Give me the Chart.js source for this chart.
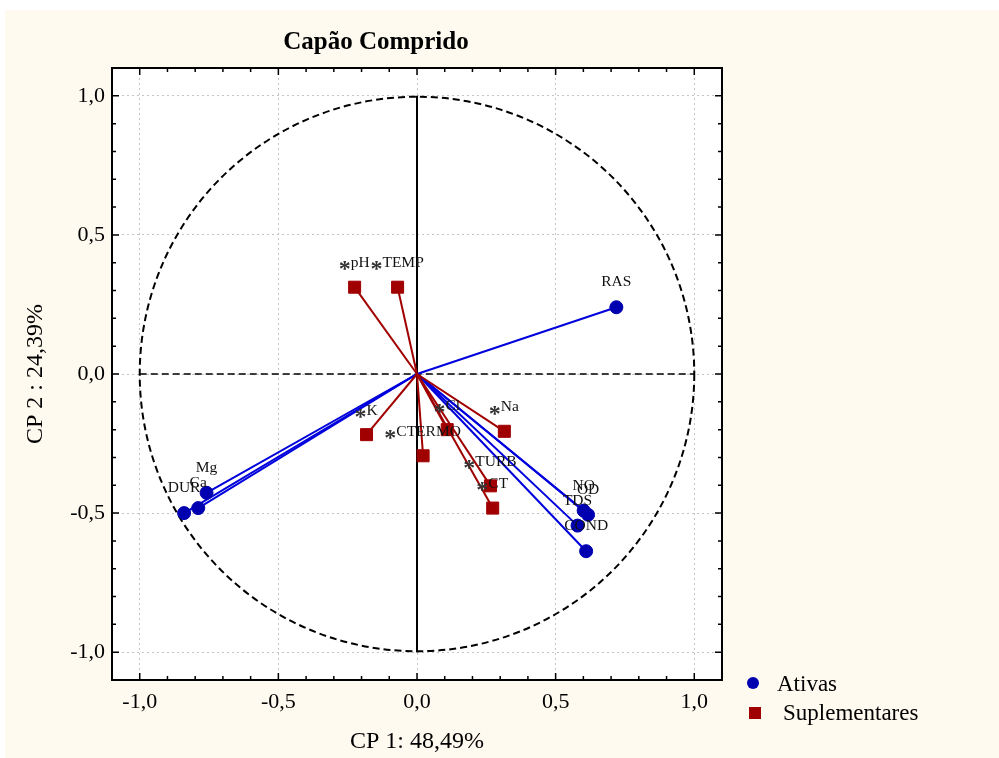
<!DOCTYPE html>
<html>
<head>
<meta charset="utf-8">
<script src="https://cdn.jsdelivr.net/npm/chart.js@4.4.1/dist/chart.umd.min.js"></script>
<style>
  html, body { margin: 0; padding: 0; background: #fff; }
  #wrap { width: 999px; height: 758px; }
</style>
</head>
<body>
<div id="wrap"><canvas id="pca" width="999" height="758"></canvas></div>
<script>
// loadings (CP1, CP2)
const ativasNames = ['RAS', 'Mg', 'Ca', 'DUR', 'NO', 'OD', 'TDS', 'COND'];
const ativasX = [0.719, -0.759, -0.789, -0.840, 0.601, 0.617, 0.579, 0.610];
const ativasY = [0.240, -0.427, -0.482, -0.500, -0.491, -0.506, -0.545, -0.637];

const supNames = ['pH', 'TEMP', 'K', 'Cl', 'CTERMO', 'Na', 'TURB', 'CT'];
const supX = [-0.225, -0.070, -0.182, 0.109, 0.022, 0.315, 0.265, 0.273];
const supY = [0.312, 0.312, -0.218, -0.200, -0.294, -0.206, -0.402, -0.482];

const axisTicks = [-1, -0.5, 0, 0.5, 1];
const axisMin = -1.1, axisMax = 1.1;

const titleText = 'Capão Comprido';
const xTitle = 'CP 1: 48,49%';
const yTitle = 'CP 2 : 24,39%';
const legendLabels = ['Ativas', 'Suplementares'];

const SERIF = '"Liberation Serif", "Times New Roman", serif';
const BLUE_PT = '#0000B0', BLUE_LN = '#0000DC', RED = '#A00000';
const CREAM = '#FFFAF0';

function fmt(v){ return v.toFixed(1).replace('.', ','); }

// vectors from the origin, one small line dataset each
const vecSets = [];
ativasX.forEach((x, i) => vecSets.push({
  type: 'line', data: [{x: 0, y: 0}, {x: x, y: ativasY[i]}],
  borderColor: BLUE_LN, borderWidth: 2, pointRadius: 0, order: 3, fill: false
}));
supX.forEach((x, i) => vecSets.push({
  type: 'line', data: [{x: 0, y: 0}, {x: x, y: supY[i]}],
  borderColor: RED, borderWidth: 2, pointRadius: 0, order: 2, fill: false
}));

const ptAtivas = {
  label: legendLabels[0], data: ativasX.map((x, i) => ({x: x, y: ativasY[i]})),
  pointStyle: 'circle', pointRadius: 6.5, backgroundColor: BLUE_PT, borderColor: BLUE_PT, order: 1
};
const ptSup = {
  label: legendLabels[1], data: supX.map((x, i) => ({x: x, y: supY[i]})),
  pointStyle: 'rect', pointRadius: 8.5, backgroundColor: RED, borderColor: RED, order: 0
};

// background panel, chart area white
const bgPlugin = {
  id: 'bg',
  beforeDraw(chart){
    const {ctx, chartArea: a} = chart;
    ctx.save();
    ctx.fillStyle = '#fff'; ctx.fillRect(0, 0, chart.width, chart.height);
    ctx.fillStyle = CREAM; ctx.fillRect(5, 10, chart.width - 5, chart.height - 10);
    ctx.fillStyle = '#fff'; ctx.fillRect(a.left, a.top, a.width, a.height);
    ctx.restore();
  }
};

// unit circle and the two axes through the origin
const circlePlugin = {
  id: 'circle',
  beforeDatasetsDraw(chart){
    const {ctx, scales: {x, y}} = chart;
    const cx = x.getPixelForValue(0), cy = y.getPixelForValue(0);
    const r = x.getPixelForValue(1) - cx;
    ctx.save();
    ctx.strokeStyle = '#000';
    ctx.lineWidth = 2; ctx.setLineDash([7, 4]);
    ctx.beginPath(); ctx.arc(cx, cy, r, 0, Math.PI * 2); ctx.stroke();
    ctx.lineWidth = 1.5;
    ctx.beginPath(); ctx.moveTo(x.getPixelForValue(-1), cy); ctx.lineTo(x.getPixelForValue(1), cy); ctx.stroke();
    ctx.setLineDash([]); ctx.lineWidth = 2;
    ctx.beginPath(); ctx.moveTo(cx, y.getPixelForValue(1)); ctx.lineTo(cx, y.getPixelForValue(-1)); ctx.stroke();
    ctx.restore();
  }
};

// variable names above each point
const labelPlugin = {
  id: 'ptLabels',
  afterDatasetsDraw(chart){
    const {ctx, scales: {x, y}} = chart;
    ctx.save();
    ctx.textBaseline = 'middle';
    ctx.font = '15.5px ' + SERIF;
    ctx.fillStyle = '#111';
    ctx.textAlign = 'center';
    ativasNames.forEach((n, i) => {
      ctx.fillText(n, x.getPixelForValue(ativasX[i]), y.getPixelForValue(ativasY[i]) - 25);
    });
    supNames.forEach((n, i) => {
      const px = x.getPixelForValue(supX[i]), py = y.getPixelForValue(supY[i]) - 24;
      ctx.font = '15.5px ' + SERIF;
      const w = ctx.measureText(n).width;
      const aw = 11;
      const left = px - (w + aw) / 2;
      ctx.textAlign = 'left';
      ctx.fillStyle = '#111';
      ctx.fillText(n, left + aw, py);
      ctx.fillStyle = '#333';
      ctx.font = 'bold 24px ' + SERIF;
      ctx.fillText('*', left - 1, py + 7);
    });
    ctx.restore();
  }
};

// frame with inward ticks, title, legend
const framePlugin = {
  id: 'frame',
  afterDraw(chart){
    const {ctx, chartArea: a, scales: {x, y}} = chart;
    ctx.save();
    ctx.strokeStyle = '#000';
    ctx.lineWidth = 2;
    ctx.strokeRect(a.left, a.top, a.width, a.height);
    ctx.lineWidth = 1.5;
    for (let i = -11; i <= 11; i++) {
      const v = i / 10, len = (i % 5 === 0) ? 7 : 4;
      const px = x.getPixelForValue(v), py = y.getPixelForValue(v);
      ctx.beginPath();
      ctx.moveTo(px, a.bottom); ctx.lineTo(px, a.bottom - len);
      ctx.moveTo(px, a.top); ctx.lineTo(px, a.top + len);
      ctx.moveTo(a.left, py); ctx.lineTo(a.left + len, py);
      ctx.moveTo(a.right, py); ctx.lineTo(a.right - len, py);
      ctx.stroke();
    }

    ctx.fillStyle = '#000';
    ctx.textBaseline = 'middle';
    ctx.textAlign = 'center';
    ctx.font = 'bold 25px ' + SERIF;
    ctx.fillText(titleText, 376, 43);

    // legend
    ctx.fillStyle = BLUE_PT;
    ctx.beginPath(); ctx.arc(753, 683, 6, 0, Math.PI * 2); ctx.fill();
    ctx.fillStyle = RED;
    ctx.fillRect(749, 707, 12, 12);
    ctx.fillStyle = '#000';
    ctx.textAlign = 'left';
    ctx.font = '23px ' + SERIF;
    ctx.fillText(legendLabels[0], 777, 685);
    ctx.fillText(legendLabels[1], 783, 714);
    ctx.restore();
  }
};

const scaleCommon = {
  type: 'linear', min: axisMin, max: axisMax,
  afterBuildTicks(s){ s.ticks = axisTicks.map(v => ({value: v})); },
  grid: { color: '#C4C4C4', lineWidth: 1, drawTicks: false },
  border: { display: false, dash: [2, 3] }
};

new Chart(document.getElementById('pca'), {
  type: 'scatter',
  data: { datasets: [...vecSets, ptAtivas, ptSup] },
  options: {
    responsive: false,
    animation: false,
    devicePixelRatio: 1,
    layout: { padding: { left: 0, top: 68, right: 277, bottom: 0 } },
    plugins: { legend: { display: false }, tooltip: { enabled: false }, title: { display: false } },
    scales: {
      x: {
        ...scaleCommon, position: 'bottom',
        afterFit(s){ s.height = 78; },
        ticks: { callback: v => fmt(v), color: '#000', font: { family: SERIF, size: 22 }, padding: 9, maxRotation: 0, autoSkip: false },
        title: { display: true, text: xTitle, color: '#000', font: { family: SERIF, size: 24 }, padding: { top: 0, bottom: 2 } }
      },
      y: {
        ...scaleCommon, position: 'left',
        afterFit(s){ s.width = 112; },
        ticks: { callback: v => fmt(v), color: '#000', font: { family: SERIF, size: 22 }, padding: 7, autoSkip: false },
        title: { display: true, text: yTitle, color: '#000', font: { family: SERIF, size: 24 }, padding: { top: 21, bottom: 0 } }
      }
    }
  },
  plugins: [bgPlugin, circlePlugin, labelPlugin, framePlugin]
});
</script>
</body>
</html>
